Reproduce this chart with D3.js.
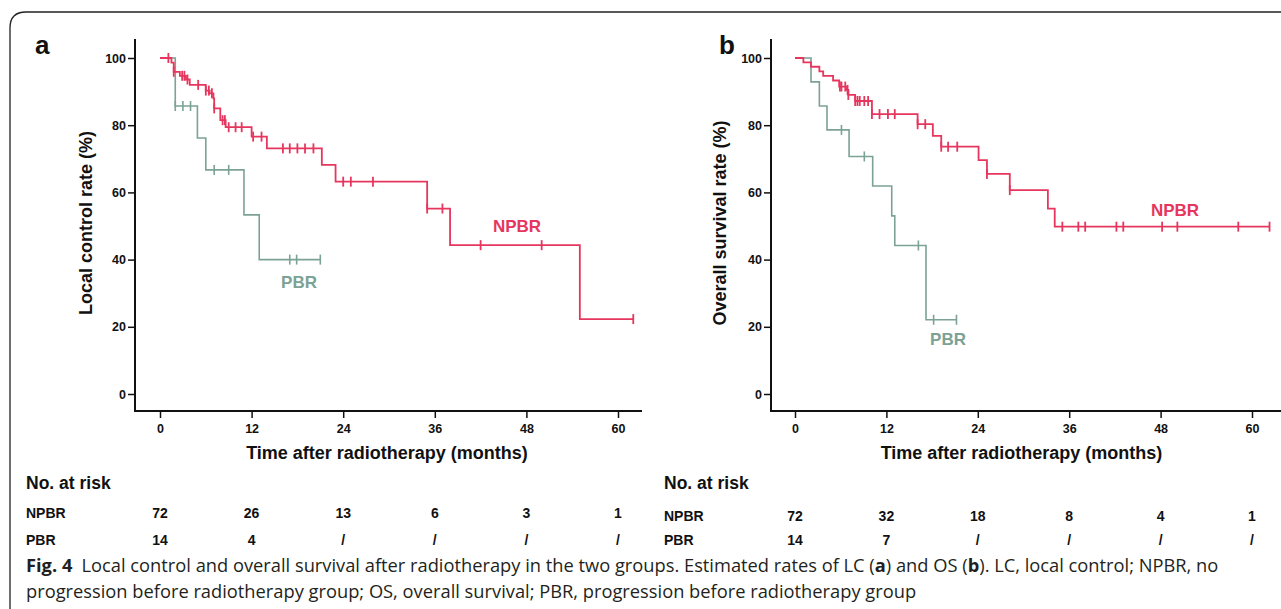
<!DOCTYPE html>
<html>
<head>
<meta charset="utf-8">
<script src="https://cdn.jsdelivr.net/npm/d3@7"></script>
<style>
  body { margin: 0; background: #fff; }
  svg { display: block; }
</style>
</head>
<body>
<div id="fig"></div>
<script>
// month ticks + at risk table
var monthTicks = [0, 12, 24, 36, 48, 60]
var rateTicks = [0, 20, 40, 60, 80, 100]
var groups = ["NPBR", "PBR"]
var riskLC_NPBR = ["72", "26", "13", "6", "3", "1"]
var riskLC_PBR = ["14", "4", "/", "/", "/", "/"]
var riskOS_NPBR = ["72", "32", "18", "8", "4", "1"]
var riskOS_PBR = ["14", "7", "/", "/", "/", "/"]

// local control (a) - step times and rate after each step
var lcNpbrTimes = [0, 1.5, 1.8, 2.6, 3.4, 3.9, 6.0, 6.5, 7.0, 7.1, 7.9, 8.6, 12.0, 14.0, 21.2, 23.0, 35.0, 38.0, 55.0]
var lcNpbrRates = [100, 98.6, 95.9, 94.7, 93.6, 92.0, 90.3, 89.5, 88.0, 85.0, 81.5, 79.4, 76.6, 73.1, 68.2, 63.2, 55.2, 44.3, 22.3]
var lcNpbrEnd = 62.0
var lcNpbrCensor = [1.1, 1.8, 2.9, 3.2, 3.6, 5.0, 6.0, 6.4, 6.8, 7.1, 8.2, 8.5, 9.0, 9.9, 10.7, 12.2, 13.3,
  16.1, 17.0, 18.0, 19.0, 20.1, 24.0, 25.0, 27.9, 35.0, 37.0, 42.0, 50.0, 62.0]

var lcPbrTimes = [0, 2.0, 4.9, 6.0, 11.0, 13.0]
var lcPbrRates = [100, 85.7, 76.2, 66.7, 53.3, 40.0]
var lcPbrEnd = 21.0
var lcPbrCensor = [2.0, 3.0, 4.0, 7.1, 9.0, 17.0, 17.9, 21.0]

// overall survival (b)
var osNpbrTimes = [0, 1.1, 2.1, 3.2, 3.7, 5.0, 5.8, 6.7, 7.0, 7.9, 10.1, 16.1, 18.1, 19.2, 24.1, 25.2, 28.2, 33.2, 34.1]
var osNpbrRates = [100, 98.7, 97.4, 96.0, 94.7, 93.3, 91.5, 90.5, 89.0, 87.2, 83.3, 80.3, 76.8, 73.6, 69.6, 65.5, 60.7, 55.2, 49.8]
var osNpbrEnd = 62.3
var osNpbrCensor = [5.9, 6.1, 6.6, 6.9, 7.0, 7.9, 8.2, 8.5, 9.1, 9.6, 10.1, 11.1, 12.2, 13.1, 16.1, 17.1,
  19.2, 20.1, 21.3, 25.2, 28.2, 35.1, 37.2, 38.1, 42.2, 43.1, 48.2, 50.2, 58.2, 62.3]

var osPbrTimes = [0, 2.1, 3.2, 4.2, 7.1, 10.2, 12.7, 13.1, 17.2]
var osPbrRates = [100, 92.9, 85.7, 78.6, 70.7, 61.9, 53.0, 44.2, 22.1]
var osPbrEnd = 21.2
var osPbrCensor = [6.1, 9.1, 16.2, 18.2, 21.2]

var red = "#e6365e"
var green = "#7ba294"
var chartFont = "'Liberation Sans', Arial, sans-serif"
var tickFont = "'Liberation Sans Narrow', 'Arial Narrow', 'Liberation Sans', sans-serif"

var W = 1281, H = 609

var svg = d3.select("#fig").append("svg")
  .attr("width", W)
  .attr("height", H)

// outer frame with rounded corner
svg.append("path")
  .attr("d", "M10," + H + " L10,28 Q10,12 26,12 L" + W + ",12")
  .attr("fill", "none")
  .attr("stroke", "#222")
  .attr("stroke-width", 1.3)

function stepPoints(times, rates, end) {
  var pts = times.map(function(t, i) { return [t, rates[i]] })
  pts.push([end, rates[rates.length - 1]])
  return pts
}

function rateAt(times, rates, t) {
  var i = d3.bisectRight(times, t) - 1
  return rates[Math.max(0, i)]
}

// draw one KM panel
function drawPanel(p) {
  var g = svg.append("g")
  var x = d3.scaleLinear().domain([0, 60]).range([p.x0, p.x60])
  var y = d3.scaleLinear().domain([0, 100]).range([394, 58])

  // axis lines
  g.append("line")
    .attr("x1", p.axisX).attr("x2", p.axisX)
    .attr("y1", 39).attr("y2", 412)
    .attr("stroke", "#111").attr("stroke-width", 2)
  g.append("line")
    .attr("x1", p.axisX - 1).attr("x2", p.axisEnd)
    .attr("y1", 411).attr("y2", 411)
    .attr("stroke", "#111").attr("stroke-width", 2)

  var yAxis = g.append("g")
    .attr("transform", "translate(" + p.axisX + ",0)")
    .call(d3.axisLeft(y).tickValues(rateTicks).tickSize(7).tickPadding(2))
  var xAxis = g.append("g")
    .attr("transform", "translate(0,411)")
    .call(d3.axisBottom(x).tickValues(monthTicks).tickSize(7).tickPadding(6))

  ;[yAxis, xAxis].forEach(function(a) {
    a.select(".domain").remove()
    a.selectAll("line").attr("stroke", "#111").attr("stroke-width", 1.5)
    a.selectAll("text")
      .attr("font-family", tickFont)
      .attr("font-weight", "bold")
      .attr("font-size", 12.5)
      .attr("fill", "#111")
  })

  // axis titles
  g.append("text")
    .attr("x", (p.x0 + p.x60) / 2 - 2)
    .attr("y", 459)
    .attr("text-anchor", "middle")
    .attr("font-family", chartFont)
    .attr("font-weight", "bold")
    .attr("font-size", 18)
    .attr("fill", "#111")
    .text("Time after radiotherapy (months)")
  g.append("text")
    .attr("transform", "translate(" + p.titleX + ",223) rotate(-90)")
    .attr("text-anchor", "middle")
    .attr("font-family", chartFont)
    .attr("font-weight", "bold")
    .attr("font-size", 18)
    .attr("fill", "#111")
    .text(p.yTitle)

  // panel letter
  g.append("text")
    .attr("x", p.letterX).attr("y", 54)
    .attr("font-family", chartFont)
    .attr("font-weight", "bold")
    .attr("font-size", 26)
    .attr("fill", "#111")
    .text(p.letter)

  var line = d3.line()
    .x(function(d) { return x(d[0]) })
    .y(function(d) { return y(d[1]) })
    .curve(d3.curveStepAfter)

  p.curves.forEach(function(c) {
    g.append("path")
      .datum(stepPoints(c.times, c.rates, c.end))
      .attr("d", line)
      .attr("fill", "none")
      .attr("stroke", c.color)
      .attr("stroke-width", c.width)

    // censor ticks
    g.selectAll(null)
      .data(c.censor)
      .enter()
      .append("line")
        .attr("x1", function(t) { return x(t) })
        .attr("x2", function(t) { return x(t) })
        .attr("y1", function(t) { return y(rateAt(c.times, c.rates, t)) - 5 })
        .attr("y2", function(t) { return y(rateAt(c.times, c.rates, t)) + 5 })
        .attr("stroke", c.color)
        .attr("stroke-width", c.width)

    g.append("text")
      .attr("x", c.labelX).attr("y", c.labelY)
      .attr("text-anchor", "middle")
      .attr("font-family", chartFont)
      .attr("font-weight", "bold")
      .attr("font-size", 17)
      .attr("fill", c.color)
      .text(c.name)
  })

  // no. at risk table
  g.append("text")
    .attr("x", p.tableX).attr("y", 489)
    .attr("font-family", chartFont)
    .attr("font-weight", "bold")
    .attr("font-size", 17.5)
    .attr("fill", "#111")
    .text("No. at risk")

  p.risk.forEach(function(row, i) {
    var ry = p.rowY[i]
    g.append("text")
      .attr("x", p.tableX).attr("y", ry)
      .attr("font-family", chartFont)
      .attr("font-weight", "bold")
      .attr("font-size", 14)
      .attr("fill", "#111")
      .text(groups[i])
    g.selectAll(null)
      .data(row)
      .enter()
      .append("text")
        .attr("x", function(d, j) { return x(monthTicks[j]) })
        .attr("y", ry)
        .attr("text-anchor", "middle")
        .attr("font-family", chartFont)
        .attr("font-weight", "bold")
        .attr("font-size", 14)
        .attr("fill", "#111")
        .text(function(d) { return d })
  })
}

drawPanel({
  letter: "a", letterX: 35,
  x0: 160, x60: 618, axisX: 135, axisEnd: 642,
  titleX: 92, yTitle: "Local control rate (%)",
  tableX: 26, rowY: [518, 545],
  risk: [riskLC_NPBR, riskLC_PBR],
  curves: [
    {name: "PBR", times: lcPbrTimes, rates: lcPbrRates, end: lcPbrEnd, censor: lcPbrCensor,
      color: green, width: 1.6, labelX: 299, labelY: 288},
    {name: "NPBR", times: lcNpbrTimes, rates: lcNpbrRates, end: lcNpbrEnd, censor: lcNpbrCensor,
      color: red, width: 1.8, labelX: 517, labelY: 232}
  ]
})

drawPanel({
  letter: "b", letterX: 719,
  x0: 795, x60: 1252, axisX: 771, axisEnd: 1281,
  titleX: 726, yTitle: "Overall survival rate (%)",
  tableX: 664, rowY: [521, 545],
  risk: [riskOS_NPBR, riskOS_PBR],
  curves: [
    {name: "PBR", times: osPbrTimes, rates: osPbrRates, end: osPbrEnd, censor: osPbrCensor,
      color: green, width: 1.6, labelX: 948, labelY: 345},
    {name: "NPBR", times: osNpbrTimes, rates: osNpbrRates, end: osNpbrEnd, censor: osNpbrCensor,
      color: red, width: 1.8, labelX: 1175, labelY: 216}
  ]
})

// caption
var capFont = "'Open Sans', 'Noto Sans', sans-serif"
var cap1 = svg.append("text")
  .attr("x", 26).attr("y", 572)
  .attr("font-family", capFont)
  .attr("font-size", 18.3)
  .attr("fill", "#231f20")
cap1.append("tspan").attr("font-weight", "bold").text("Fig. 4")
cap1.append("tspan").text("\u2002Local control and overall survival after radiotherapy in the two groups. Estimated rates of LC (")
cap1.append("tspan").attr("font-weight", "bold").text("a")
cap1.append("tspan").text(") and OS (")
cap1.append("tspan").attr("font-weight", "bold").text("b")
cap1.append("tspan").text("). LC, local control; NPBR, no")

svg.append("text")
  .attr("x", 26).attr("y", 598)
  .attr("font-family", capFont)
  .attr("font-size", 18.3)
  .attr("fill", "#231f20")
  .text("progression before radiotherapy group; OS, overall survival; PBR, progression before radiotherapy group")
</script>
</body>
</html>
